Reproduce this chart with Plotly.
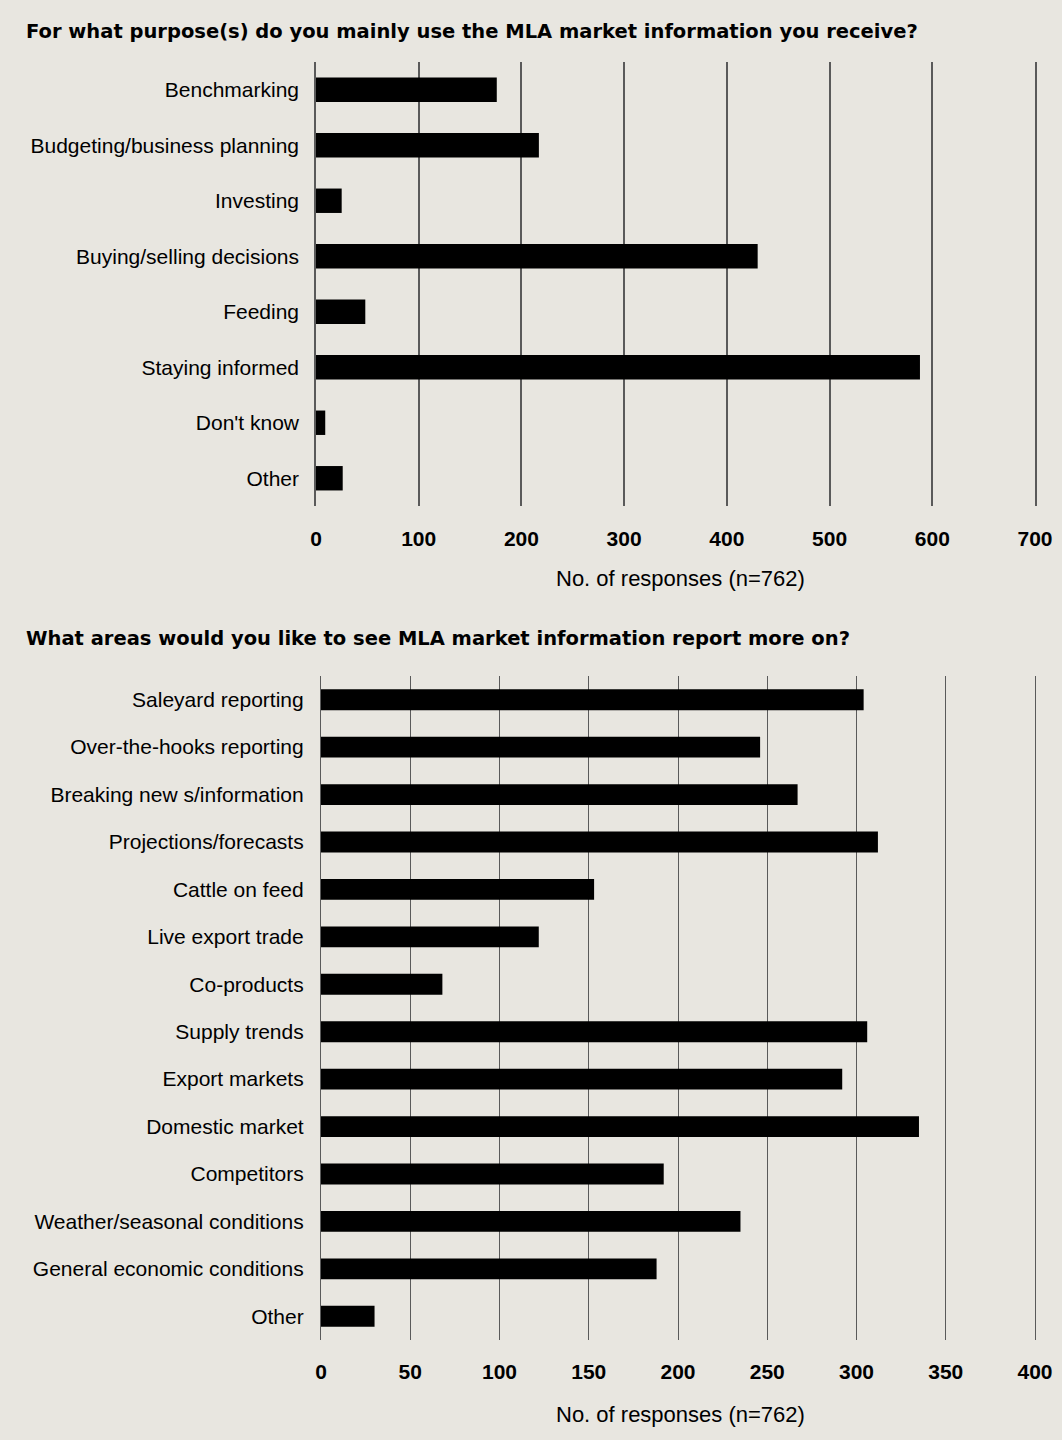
import plotly.graph_objects as go

W, H = 1062, 1440

top_title = "For what purpose(s) do you mainly use the MLA market information you receive?"
top_categories = ["Benchmarking", "Budgeting/business planning", "Investing",
                  "Buying/selling decisions", "Feeding", "Staying informed",
                  "Don't know", "Other"]
top_values = [176, 217, 25, 430, 48, 588, 9, 26]
top_ticks = [0, 100, 200, 300, 400, 500, 600, 700]

bot_title = "What areas would you like to see MLA market information report more on?"
bot_categories = ["Saleyard reporting", "Over-the-hooks reporting", "Breaking new s/information",
                  "Projections/forecasts", "Cattle on feed", "Live export trade",
                  "Co-products", "Supply trends", "Export markets", "Domestic market",
                  "Competitors", "Weather/seasonal conditions",
                  "General economic conditions", "Other"]
bot_values = [304, 246, 267, 312, 153, 122, 68, 306, 292, 335, 192, 235, 188, 30]
bot_ticks = [0, 50, 100, 150, 200, 250, 300, 350, 400]

axis_title = "No. of responses (n=762)"

BG = "#E8E6E0"
FONT = "Liberation Sans, Arial, sans-serif"
TFONT = "DejaVu Sans, sans-serif"

fig = go.Figure()
fig.add_trace(go.Bar(x=top_values, y=top_categories, orientation="h",
                     marker=dict(color="#000000", line=dict(width=0)),
                     xaxis="x", yaxis="y", showlegend=False))
fig.add_trace(go.Bar(x=bot_values, y=bot_categories, orientation="h",
                     marker=dict(color="#000000", line=dict(width=0)),
                     xaxis="x2", yaxis="y2", showlegend=False))


def px_x(v):
    return v / W


def px_y(v):
    return 1 - v / H


common_x = dict(showgrid=True, gridcolor="#5a5a5a", zeroline=False,
                showline=False, ticks="", automargin=False,
                tickfont=dict(family=FONT, size=21, color="#000", weight="bold"),
                fixedrange=True)
common_y = dict(showgrid=False, zeroline=False, ticks="", showline=True,
                mirror=True, linecolor="#5a5a5a", autorange="reversed",
                automargin=False,
                tickfont=dict(family=FONT, size=21, color="#000"), fixedrange=True)

fig.update_layout(
    width=W, height=H, autosize=False,
    paper_bgcolor=BG, plot_bgcolor=BG,
    margin=dict(l=0, r=0, t=0, b=0, pad=0),
    bargap=0.56,
    xaxis=dict(domain=[px_x(316), px_x(1035)], range=[0, 700], tickvals=top_ticks,
               anchor="y", gridwidth=1.5, ticklabelstandoff=18, **common_x),
    yaxis=dict(domain=[px_y(506), px_y(62)], anchor="x", linewidth=1.5,
               ticklabelstandoff=11, **common_y),
    xaxis2=dict(domain=[px_x(321), px_x(1035)], range=[0, 400], tickvals=bot_ticks,
                anchor="y2", gridwidth=1, ticklabelstandoff=17, **common_x),
    yaxis2=dict(domain=[px_y(1340), px_y(676)], anchor="x2", linewidth=1.2,
                ticklabelstandoff=12, **common_y),
    annotations=[
        dict(text=top_title, x=px_x(24), y=px_y(31), xref="paper", yref="paper",
             xanchor="left", yanchor="middle", showarrow=False,
             font=dict(family=TFONT, size=19.5, color="#000", weight="bold")),
        dict(text=bot_title, x=px_x(24), y=px_y(638), xref="paper", yref="paper",
             xanchor="left", yanchor="middle", showarrow=False,
             font=dict(family=TFONT, size=19.5, color="#000", weight="bold")),
        dict(text=axis_title, x=px_x(680), y=px_y(578), xref="paper", yref="paper",
             xanchor="center", yanchor="middle", showarrow=False,
             font=dict(family=FONT, size=22, color="#000")),
        dict(text=axis_title, x=px_x(680), y=px_y(1414), xref="paper", yref="paper",
             xanchor="center", yanchor="middle", showarrow=False,
             font=dict(family=FONT, size=22, color="#000")),
    ],
)

fig.write_html(
    "out.html",
    config={"responsive": False, "displayModeBar": False},
    post_script=("document.body.style.margin='0';"
                 "document.body.style.background='" + BG + "';"),
)
